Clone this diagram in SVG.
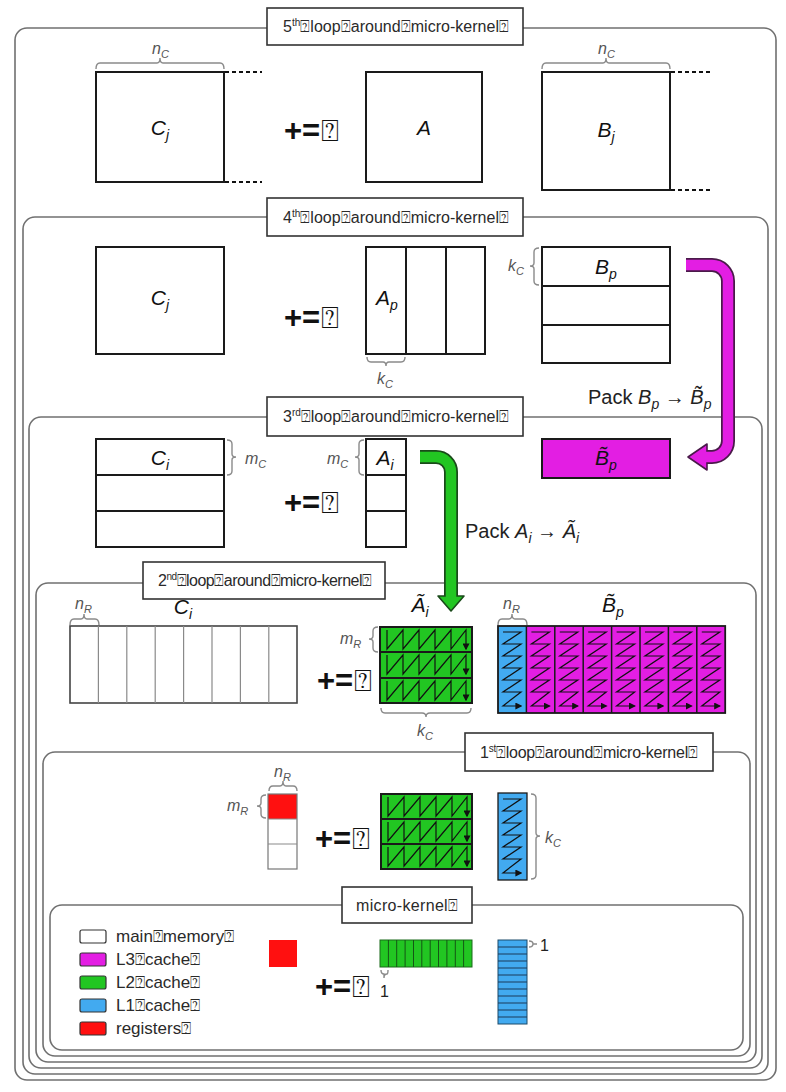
<svg xmlns="http://www.w3.org/2000/svg" xmlns:xlink="http://www.w3.org/1999/xlink" width="786" height="1092" viewBox="0 0 786 1092">
  <style>
    .frame{fill:none;stroke:#707070;stroke-width:1.6}
    .lblbox{fill:#fff;stroke:#333;stroke-width:1.6}
    .lt{font-family:'Liberation Sans',Arial,sans-serif;font-size:16px;fill:#2a2a2a}
    .leg{font-family:'Liberation Sans',Arial,sans-serif;font-size:17px;fill:#2a2a2a}
    .mat{fill:#fff;stroke:#1a1a1a;stroke-width:2}
    .div{stroke:#1a1a1a;stroke-width:2;fill:none}
    .thin{stroke:#8a8a8a;stroke-width:1.2;fill:none}
    .math{font-family:'Liberation Sans',Arial,sans-serif;font-style:italic;font-size:21px;fill:#111;text-anchor:middle}
    .dim{font-family:'Liberation Sans',Arial,sans-serif;font-style:italic;font-size:16px;fill:#555}
    .brace{fill:none;stroke:#8a8a8a;stroke-width:1.4}
    .pe{font-family:'Liberation Sans',Arial,sans-serif;font-size:31px;font-weight:bold;fill:#111}
    .q{font-size:30px;font-weight:normal}
    .pack{font-family:'Liberation Sans',Arial,sans-serif;font-size:20px;fill:#222}
    .dash{stroke:#111;stroke-width:2;stroke-dasharray:4 3}
    .zig{fill:none;stroke:#111;stroke-width:1.2;marker-end:url(#tip)}
    .l3{fill:#e31ee3}
    .l2{fill:#22c622}
    .l1{fill:#42aaf0}
    .reg{fill:#ff1010}
    .cell{stroke:#1a1a1a;stroke-width:1.5}
    .legbox{stroke:#333;stroke-width:1.2}
    .one{font-family:'Liberation Sans',Arial,sans-serif;font-size:16px;fill:#222}
  </style>
  <defs>
    <marker id="tip" viewBox="0 0 10 10" refX="8" refY="5" markerWidth="7" markerHeight="7" markerUnits="userSpaceOnUse" orient="auto">
      <path d="M0 0L10 5L0 10z" fill="#111"/>
    </marker>
    <!-- column-major sweep of one m_R row of the packed A block -->
    <path id="nrow" class="zig" d="M7 3V22L23 3V22L39 3V22L55 3V22L71 3V22L86 3V22"/>
    <!-- row-major sweep of one n_R column of the packed B block -->
    <path id="zcol" class="zig" d="M5 6H23L5 18H23L5 30H23L5 42H23L5 54H23L5 66H23L5 80H23"/>
  </defs>

  <!-- nested loop frames -->
  <g id="frames">
    <rect class="frame" x="15" y="28" width="761" height="1052" rx="12"/>
    <rect class="frame" x="23" y="217" width="745" height="857" rx="12"/>
    <rect class="frame" x="29" y="417" width="733" height="651" rx="12"/>
    <rect class="frame" x="36" y="583" width="720" height="479" rx="12"/>
    <rect class="frame" x="43" y="752" width="707" height="304" rx="12"/>
    <rect class="frame" x="50" y="905" width="693" height="145" rx="12"/>
  </g>

  <!-- 5th loop -->
  <g id="loop5">
    <rect class="lblbox" x="267" y="8" width="256" height="37"/>
    <text class="lt" x="283" y="32" textLength="226">5<tspan font-size="10" dy="-6">th</tspan><tspan dy="6">⍰loop⍰around⍰micro-kernel⍰</tspan></text>
    <path class="brace" d="M96 69Q96 63 100 63H157Q160 63 160 58Q160 63 163 63H220Q224 63 224 69"/>
    <text class="dim" x="152" y="54">n<tspan font-size="11" dy="4">C</tspan></text>
    <rect class="mat" x="96" y="72" width="128" height="110"/>
    <line class="dash" x1="225" y1="72" x2="262" y2="72"/>
    <line class="dash" x1="225" y1="182" x2="262" y2="182"/>
    <text class="math" x="160" y="135">C<tspan font-size="14" dy="5">j</tspan></text>
    <text class="pe" x="284" y="141">+=<tspan class="q" dx="1">⍰</tspan></text>
    <rect class="mat" x="366" y="72" width="116" height="110"/>
    <text class="math" x="424" y="135">A</text>
    <path class="brace" d="M542 69Q542 63 546 63H603Q606 63 606 58Q606 63 609 63H666Q670 63 670 69"/>
    <text class="dim" x="598" y="54">n<tspan font-size="11" dy="4">C</tspan></text>
    <rect class="mat" x="542" y="72" width="128" height="118"/>
    <line class="dash" x1="671" y1="72" x2="710" y2="72"/>
    <line class="dash" x1="671" y1="190" x2="710" y2="190"/>
    <text class="math" x="606" y="137">B<tspan font-size="14" dy="5">j</tspan></text>
  </g>

  <!-- 4th loop -->
  <g id="loop4">
    <rect class="lblbox" x="267" y="198" width="256" height="38"/>
    <text class="lt" x="283" y="223" textLength="226">4<tspan font-size="10" dy="-6">th</tspan><tspan dy="6">⍰loop⍰around⍰micro-kernel⍰</tspan></text>
    <rect class="mat" x="96" y="247" width="128" height="107"/>
    <text class="math" x="160" y="305">C<tspan font-size="14" dy="5">j</tspan></text>
    <text class="pe" x="284" y="328">+=<tspan class="q" dx="1">⍰</tspan></text>
    <rect class="mat" x="366" y="247" width="119" height="107"/>
    <line class="div" x1="406" y1="247" x2="406" y2="354"/>
    <line class="div" x1="446" y1="247" x2="446" y2="354"/>
    <text class="math" x="387" y="305">A<tspan font-size="14" dy="5">p</tspan></text>
    <path class="brace" d="M367 357Q367 362 371 362H383Q386 362 386 366Q386 362 389 362H401Q405 362 405 357"/>
    <text class="dim" x="377" y="384">k<tspan font-size="11" dy="4">C</tspan></text>
    <rect class="mat" x="542" y="247" width="128" height="116"/>
    <line class="div" x1="542" y1="286" x2="670" y2="286"/>
    <line class="div" x1="542" y1="325" x2="670" y2="325"/>
    <text class="math" x="606" y="274">B<tspan font-size="14" dy="5">p</tspan></text>
    <path class="brace" d="M539 248Q534 248 534 252V263Q534 266 530 266Q534 266 534 269V281Q534 285 539 285"/>
    <text class="dim" x="508" y="271">k<tspan font-size="11" dy="4">C</tspan></text>
    <text class="pack" x="588" y="404">Pack <tspan font-style="italic">B</tspan><tspan font-style="italic" font-size="14" dy="5">p</tspan><tspan dy="-5"> → </tspan><tspan font-style="italic">B̃</tspan><tspan font-style="italic" font-size="14" dy="5">p</tspan></text>
  </g>

  <!-- 3rd loop -->
  <g id="loop3">
    <rect class="lblbox" x="267" y="397" width="256" height="39"/>
    <text class="lt" x="283" y="422" textLength="226">3<tspan font-size="10" dy="-6">rd</tspan><tspan dy="6">⍰loop⍰around⍰micro-kernel⍰</tspan></text>
    <rect class="mat" x="96" y="439" width="128" height="108"/>
    <line class="div" x1="96" y1="475" x2="224" y2="475"/>
    <line class="div" x1="96" y1="511" x2="224" y2="511"/>
    <text class="math" x="160" y="465">C<tspan font-size="14" dy="5">i</tspan></text>
    <path class="brace" d="M227 440Q232 440 232 444V454Q232 457 236 457Q232 457 232 460V471Q232 475 227 475"/>
    <text class="dim" x="245" y="464">m<tspan font-size="11" dy="4">C</tspan></text>
    <text class="pe" x="284" y="513">+=<tspan class="q" dx="1">⍰</tspan></text>
    <rect class="mat" x="366" y="439" width="40" height="108"/>
    <line class="div" x1="366" y1="475" x2="406" y2="475"/>
    <line class="div" x1="366" y1="511" x2="406" y2="511"/>
    <text class="math" x="385" y="465">A<tspan font-size="14" dy="5">i</tspan></text>
    <path class="brace" d="M364 440Q359 440 359 444V454Q359 457 355 457Q359 457 359 460V471Q359 475 364 475"/>
    <text class="dim" x="327" y="464">m<tspan font-size="11" dy="4">C</tspan></text>
    <rect class="mat l3" x="542" y="439" width="128" height="39"/>
    <text class="math" x="606" y="465">B̃<tspan font-size="14" dy="5">p</tspan></text>
    <text class="pack" x="465" y="538">Pack <tspan font-style="italic">A</tspan><tspan font-style="italic" font-size="14" dy="5">i</tspan><tspan dy="-5"> → </tspan><tspan font-style="italic">Ã</tspan><tspan font-style="italic" font-size="14" dy="5">i</tspan></text>
  </g>

  <!-- 2nd loop -->
  <g id="loop2">
    <rect class="lblbox" x="143" y="562" width="242" height="37"/>
    <text class="lt" x="158" y="586" textLength="214">2<tspan font-size="10" dy="-6">nd</tspan><tspan dy="6">⍰loop⍰around⍰micro-kernel⍰</tspan></text>
    <path class="brace" d="M70 625Q70 619 74 619H81Q84 619 84 614Q84 619 87 619H95Q99 619 99 625"/>
    <text class="dim" x="75" y="609">n<tspan font-size="11" dy="4">R</tspan></text>
    <text class="math" x="183" y="614">C<tspan font-size="14" dy="5">i</tspan></text>
    <rect x="70" y="626" width="227" height="77" fill="#fff" stroke="#444" stroke-width="1.6"/>
    <path class="thin" d="M98.4 626V703M126.8 626V703M155.2 626V703M183.6 626V703M212 626V703M240.4 626V703M268.8 626V703"/>
    <text class="pe" x="317" y="691">+=<tspan class="q" dx="1">⍰</tspan></text>
    <text class="math" x="420" y="612">Ã<tspan font-size="14" dy="5">i</tspan></text>
    <path class="brace" d="M378 627Q373 627 373 631V636Q373 639 369 639Q373 639 373 642V648Q373 652 378 652"/>
    <text class="dim" x="340" y="644">m<tspan font-size="11" dy="4">R</tspan></text>
    <rect class="mat l2" x="380" y="627" width="92" height="76" stroke-width="1.5"/>
    <path class="div" stroke-width="1.2" d="M380 652H472M380 678H472"/>
    <use xlink:href="#nrow" x="380" y="627"/>
    <use xlink:href="#nrow" x="380" y="652"/>
    <use xlink:href="#nrow" x="380" y="678"/>
    <path class="brace" d="M381 708Q381 713 385 713H422Q426 713 426 717Q426 713 430 713H467Q471 713 471 708"/>
    <text class="dim" x="417" y="736">k<tspan font-size="11" dy="4">C</tspan></text>
    <path class="brace" d="M498 625Q498 619 502 619H509Q512 619 512 614Q512 619 515 619H523Q527 619 527 625"/>
    <text class="dim" x="503" y="609">n<tspan font-size="11" dy="4">R</tspan></text>
    <text class="math" x="613" y="612">B̃<tspan font-size="14" dy="5">p</tspan></text>
    <rect class="l1" x="498" y="626" width="28.4" height="87"/>
    <rect class="l3" x="526.4" y="626" width="198.8" height="87"/>
    <path class="cell" d="M526.4 626V713M554.8 626V713M583.2 626V713M611.6 626V713M640 626V713M668.4 626V713M696.8 626V713"/>
    <rect x="498" y="626" width="227.2" height="87" fill="none" stroke="#1a1a1a" stroke-width="1.8"/>
    <use xlink:href="#zcol" x="498" y="626"/>
    <use xlink:href="#zcol" x="526.4" y="626"/>
    <use xlink:href="#zcol" x="554.8" y="626"/>
    <use xlink:href="#zcol" x="583.2" y="626"/>
    <use xlink:href="#zcol" x="611.6" y="626"/>
    <use xlink:href="#zcol" x="640" y="626"/>
    <use xlink:href="#zcol" x="668.4" y="626"/>
    <use xlink:href="#zcol" x="696.8" y="626"/>
  </g>

  <!-- 1st loop -->
  <g id="loop1">
    <rect class="lblbox" x="465" y="733" width="248" height="38"/>
    <text class="lt" x="480" y="758" textLength="218">1<tspan font-size="10" dy="-6">st</tspan><tspan dy="6">⍰loop⍰around⍰micro-kernel⍰</tspan></text>
    <path class="brace" d="M269 791Q269 786 273 786H280Q283 786 283 781Q283 786 286 786H293Q297 786 297 791"/>
    <text class="dim" x="274" y="777">n<tspan font-size="11" dy="4">R</tspan></text>
    <path class="brace" d="M266 795Q261 795 261 799V803Q261 806 257 806Q261 806 261 809V814Q261 818 266 818"/>
    <text class="dim" x="227" y="811">m<tspan font-size="11" dy="4">R</tspan></text>
    <rect class="reg" x="268" y="794" width="29" height="25"/>
    <rect x="268" y="794" width="29" height="75" fill="none" stroke="#777" stroke-width="1.2"/>
    <path class="thin" d="M268 819H297M268 844H297"/>
    <text class="pe" x="315" y="849">+=<tspan class="q" dx="1">⍰</tspan></text>
    <rect class="mat l2" x="381" y="794" width="91" height="75" stroke-width="1.5"/>
    <path class="div" stroke-width="1.2" d="M381 819H472M381 844H472"/>
    <use xlink:href="#nrow" x="381" y="794"/>
    <use xlink:href="#nrow" x="381" y="819"/>
    <use xlink:href="#nrow" x="381" y="844"/>
    <rect class="l1" x="498" y="793" width="29" height="87" stroke="#1a1a1a" stroke-width="1.3"/>
    <use xlink:href="#zcol" x="498" y="793"/>
    <path class="brace" d="M531 794Q536 794 536 798V833Q536 836 540 836Q536 836 536 839V875Q536 879 531 879"/>
    <text class="dim" x="545" y="843">k<tspan font-size="11" dy="4">C</tspan></text>
  </g>

  <!-- micro-kernel -->
  <g id="microkernel">
    <rect class="lblbox" x="342" y="887" width="130" height="36"/>
    <text class="lt" x="356" y="911" textLength="102">micro-kernel⍰</text>
    <rect class="reg" x="269" y="940" width="28" height="27"/>
    <text class="pe" x="315" y="997">+=<tspan class="q" dx="1">⍰</tspan></text>
    <rect class="l2" x="380" y="940" width="92" height="27" stroke="#1a6a1a" stroke-width="1"/>
    <path stroke="#155515" stroke-width="1" d="M388.4 940V967M396.7 940V967M405.1 940V967M413.5 940V967M421.8 940V967M430.2 940V967M438.5 940V967M446.9 940V967M455.3 940V967M463.6 940V967"/>
    <path class="brace" stroke-width="1" d="M381 970Q381 974 384 974Q384 974 384 978Q384 974 387 974Q388 974 388 970"/>
    <text class="one" x="380" y="997">1</text>
    <rect class="l1" x="498" y="940" width="29" height="84" stroke="#1a4a6a" stroke-width="1"/>
    <path stroke="#1a3a5a" stroke-width="1" d="M498 947H527M498 954H527M498 961H527M498 968H527M498 975H527M498 982H527M498 989H527M498 996H527M498 1003H527M498 1010H527M498 1017H527"/>
    <path class="brace" stroke-width="1" d="M529 941Q533 941 533 944Q533 944 537 944Q533 944 533 944Q533 947 529 947"/>
    <text class="one" x="540" y="951">1</text>
  </g>

  <!-- legend -->
  <g id="legend">
    <rect class="legbox" x="80" y="930" width="26" height="13" rx="2" fill="#fff"/>
    <rect class="legbox l3" x="80" y="953" width="26" height="13" rx="2"/>
    <rect class="legbox l2" x="80" y="976" width="26" height="13" rx="2"/>
    <rect class="legbox l1" x="80" y="999" width="26" height="13" rx="2"/>
    <rect class="legbox reg" x="80" y="1022" width="26" height="13" rx="2"/>
    <text class="leg" x="116" y="942">main⍰memory⍰</text>
    <text class="leg" x="116" y="965">L3⍰cache⍰</text>
    <text class="leg" x="116" y="988">L2⍰cache⍰</text>
    <text class="leg" x="116" y="1011">L1⍰cache⍰</text>
    <text class="leg" x="116" y="1034">registers⍰</text>
  </g>

  <!-- packing arrows -->
  <g id="connectors">
    <path d="M686 265H712A16 16 0 0 1 728 281V441A16 16 0 0 1 712 457H704" fill="none" stroke="#4a1a4a" stroke-width="14"/>
    <polygon points="688,457 707,444 707,470" fill="#e31ee3" stroke="#4a1a4a" stroke-width="1.6" stroke-linejoin="round"/>
    <path d="M686 265H712A16 16 0 0 1 728 281V441A16 16 0 0 1 712 457H706" fill="none" stroke="#e31ee3" stroke-width="10.5"/>
    <path d="M420 457H436A15 15 0 0 1 451 472V597" fill="none" stroke="#1a4a1a" stroke-width="14"/>
    <polygon points="438,596 464,596 451,611" fill="#22c622" stroke="#1a4a1a" stroke-width="1.6" stroke-linejoin="round"/>
    <path d="M420 457H436A15 15 0 0 1 451 472V599" fill="none" stroke="#22c622" stroke-width="10.5"/>
  </g>
</svg>
